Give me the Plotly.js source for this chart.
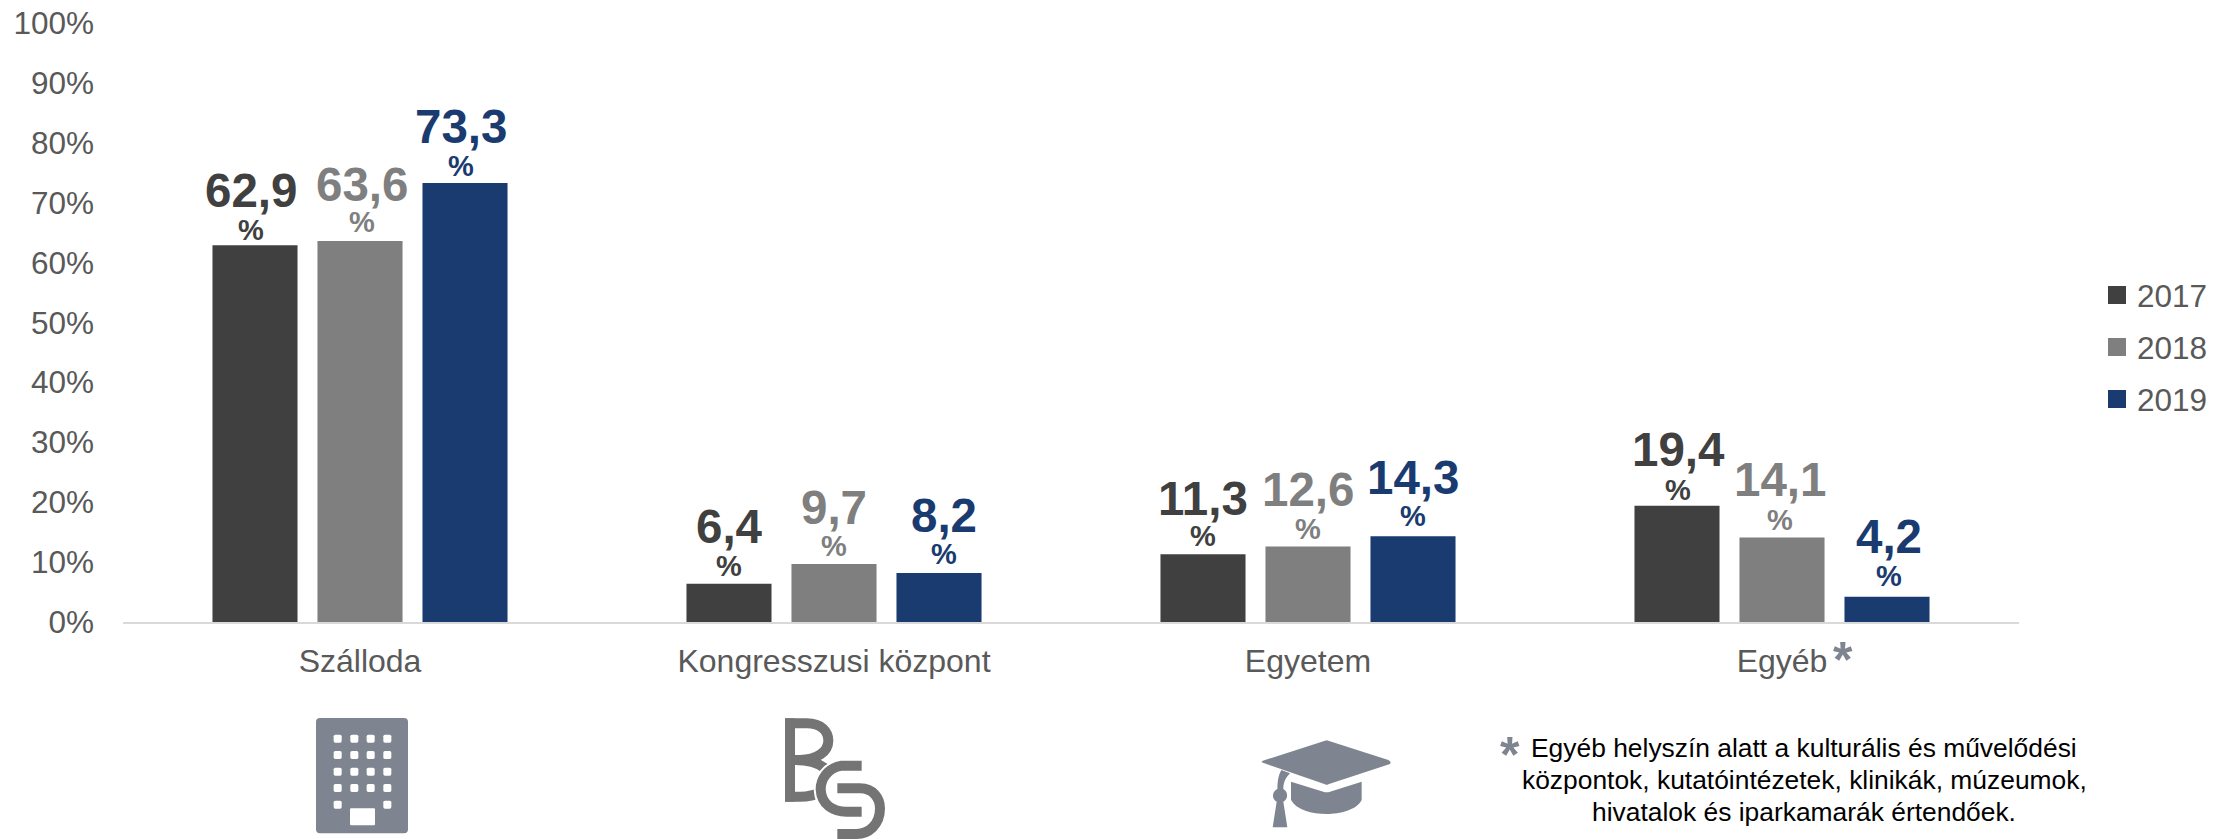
<!DOCTYPE html>
<html><head><meta charset="utf-8">
<script src="https://cdn.plot.ly/plotly-3.0.1.min.js"></script>
<style>html,body{margin:0;padding:0;background:#fff}#c{width:2231px;height:839px}</style>
</head><body><div id="c"></div>
<script>
const categories = ['Szálloda','Kongresszusi központ','Egyetem','Egyéb'];
const years = ['2017','2018','2019'];
const v2017 = [62.9,6.4,11.3,19.4];
const v2018 = [63.6,9.7,12.6,14.1];
const v2019 = [73.3,8.2,14.3,4.2];
const colors = ['#404040','#7F7F7F','#1A3B70'];
const yTicks = [0,10,20,30,40,50,60,70,80,90,100];
const footnoteLines = ['Egyéb helyszín alatt a kulturális és művelődési','központok, kutatóintézetek, klinikák, múzeumok,','hivatalok és iparkamarák értendőek.'];
const W=2231,H=839;
const series=[v2017,v2018,v2019];
const fmt=v=>v.toFixed(1).replace('.',',');
const px=x=>x/W, py=y=>1-y/H;
const traces=series.map((vals,i)=>({type:'bar',name:years[i],x:categories,y:vals,showlegend:false,
  marker:{color:colors[i],line:{width:0}},hoverinfo:'skip'}));
years.forEach((y,i)=>traces.push({type:'scatter',mode:'markers',name:y,x:[null],y:[null],legendgroup:y,hoverinfo:'skip',
  marker:{symbol:'square',size:16,color:colors[i],line:{width:2,color:colors[i]}}}));
const slot=105;
// label placement relative to the top centre of each bar, px: [category][series]
const nudges=[[-4,2,-4],[0,0,5],[0,0,0],[1,-2,2]];
const numLift=[[38,40,39],[40,39,40],[39,40,42],[39,41,43]];
const pctLift=[[4,8,5.5],[7,7,8],[7,7,9],[5,7,10]];
const annotations=[];
series.forEach((vals,s)=>vals.forEach((v,c)=>{
  const dx=(s-1)*slot+nudges[c][s];
  annotations.push({xref:'x',yref:'y',x:c,y:v,xshift:dx,yshift:numLift[c][s]-11.5,yanchor:'bottom',xanchor:'center',showarrow:false,
    text:'<b>'+fmt(v)+'</b>',font:{family:'Liberation Sans',size:47.5,color:colors[s]}});
  annotations.push({xref:'x',yref:'y',x:c,y:v,xshift:dx,yshift:pctLift[c][s]-7,yanchor:'bottom',xanchor:'center',showarrow:false,
    text:'<b>%</b>',font:{family:'Liberation Sans',size:29,color:colors[s]}});
}));
annotations.push({xref:'paper',yref:'paper',x:px(1843),y:py(660),yanchor:'middle',xanchor:'center',showarrow:false,text:'<b>*</b>',
  font:{family:'Liberation Sans',size:50,color:'#7F8590'}});
annotations.push({xref:'paper',yref:'paper',x:px(1510),y:py(755),yanchor:'middle',xanchor:'center',showarrow:false,text:'<b>*</b>',
  font:{family:'Liberation Sans',size:50,color:'#7F8590'}});
footnoteLines.forEach((t,i)=>annotations.push({xref:'paper',yref:'paper',x:px(1804),y:py(748+32*i),yanchor:'middle',xanchor:'center',showarrow:false,
  text:t,font:{family:'Liberation Sans',size:26.4,color:'#000'}}));
function svgUri(w,h,body){return 'data:image/svg+xml;utf8,'+encodeURIComponent(
 `<svg xmlns="http://www.w3.org/2000/svg" width="${w}" height="${h}" viewBox="0 0 ${w} ${h}">${body}</svg>`);}
let win='';
[116,165,215,264].forEach(y=>[173,223,272,322].forEach(x=>{win+=`<rect x="${x-12}" y="${y-12}" width="24" height="24" rx="5" fill="#fff"/>`;}));
[173,322].forEach(x=>{win+=`<rect x="${x-12}" y="302" width="24" height="24" rx="5" fill="#fff"/>`;});
const building=svgUri(510,417,`<rect x="108" y="54" width="276" height="346" rx="12" fill="#7F8590"/>${win}<rect x="210" y="325" width="75" height="51" rx="3" fill="#fff"/>`);
const sS='M335,197 H275 C230,205 212,240 212,268 C214,315 250,335 290,335 H335 M262,265 H330 C370,265 390,295 390,325 C390,375 355,402 320,402 H262';
const bs=svgUri(510,417,`<g fill="none" stroke="#747474" stroke-width="30">
<path d="M105,70 H170 C215,70 235,95 235,122 C235,155 200,180 150,180 H135"/>
<path d="M120,55 V305"/>
<path d="M135,180 C170,180 200,185 225,205"/><path d="M105,290 H150 C175,290 195,285 215,275"/>
<path d="${sS}" stroke="#fff" stroke-width="42"/>
<path d="${sS}"/></g>`);
const cap=svgUri(510,351,`<g fill="#7F8590"><path d="M65,127 Q65,122 75,120 L255,62 Q260,60 265,62 L445,120 Q455,125 450,132 L265,193 Q260,196 255,193 Z"/>
<path d="M153,185 L250,215 Q260,218 270,215 L365,185 V240 C350,270 300,282 260,282 C215,282 170,270 153,240 Z"/>
<path d="M124,150 L150,160 C135,175 130,190 130,207 C145,215 145,238 130,245 L142,322 H98 L110,245 C95,238 95,215 112,207 C112,185 115,165 124,150 Z"/></g>`);
const img=(source,x,y,w,h)=>({source,xref:'paper',yref:'paper',x:px(x),y:py(y),sizex:w/W,sizey:h/H,xanchor:'left',yanchor:'top',sizing:'stretch',layer:'above'});
const layout={width:W,height:H,margin:{l:0,r:0,t:0,b:0,pad:0},paper_bgcolor:'#fff',plot_bgcolor:'#fff',
  barmode:'group',bargap:0.3354,bargroupgap:0.19,showlegend:true,
  font:{family:'Liberation Sans',color:'#595959'},
  xaxis:{domain:[px(123),px(2019)],type:'category',categoryorder:'array',categoryarray:categories,showgrid:false,zeroline:false,showline:true,
    linecolor:'#D9D9D9',linewidth:2,ticks:'',ticklabelstandoff:10,tickfont:{family:'Liberation Sans',size:32,color:'#595959'},layer:'below traces',automargin:false},
  yaxis:{domain:[py(622),py(23)],range:[0,100],tickvals:yTicks,ticktext:yTicks.map(t=>t+'%'),showgrid:false,zeroline:false,showline:false,ticks:'',
    ticklabelstandoff:28,tickfont:{family:'Liberation Sans',size:31.5,color:'#595959'},automargin:false},
  legend:{x:px(2097),y:py(268),xanchor:'left',yanchor:'top',font:{family:'Liberation Sans',size:31.5,color:'#595959'},
    traceorder:'grouped',tracegroupgap:8,itemwidth:30,itemsizing:'trace',bgcolor:'rgba(0,0,0,0)',borderwidth:0},
  annotations,
  images:[img(building,280,700,510/3,417/3),img(bs,750,700,510/3,417/3),img(cap,1240,720,510/3,351/3)]};
Plotly.newPlot('c',traces,layout,{displayModeBar:false,staticPlot:true});
</script></body></html>
